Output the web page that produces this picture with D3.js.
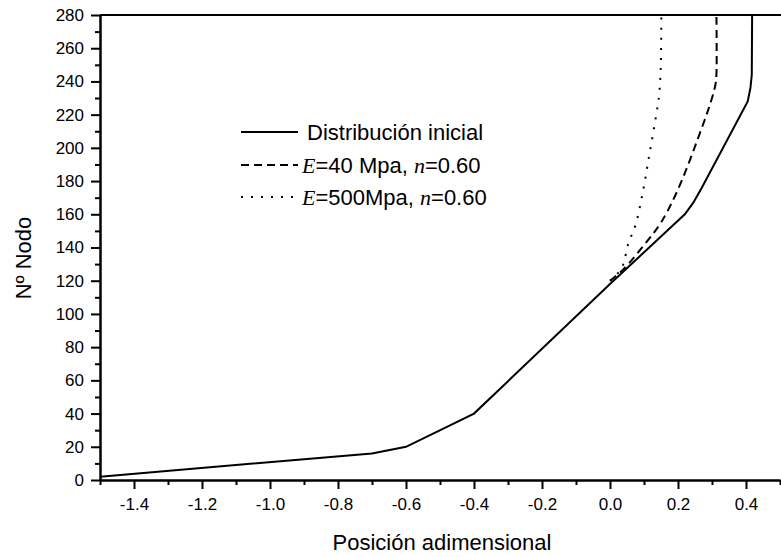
<!DOCTYPE html>
<html>
  <head>
    <meta charset="utf-8">
    <title>Nodo vs posicion</title>
    <script src="https://d3js.org/d3.v7.min.js"></script>
    <style>
      body { margin: 0; background: #fff; }
      svg { font-family: Arial, "Liberation Sans", sans-serif; }
    </style>
  </head>
  <body>
    <div id="chart"></div>
    <script>
      // values
      const xTicks = [-1.4, -1.2, -1.0, -0.8, -0.6, -0.4, -0.2, 0.0, 0.2, 0.4];
      const yTicks = [0, 20, 40, 60, 80, 100, 120, 140, 160, 180, 200, 220, 240, 260, 280];

      // Distribución inicial
      const solidX = [-1.5, -0.7, -0.6, -0.4, 0.0, 0.22, 0.245, 0.27, 0.405, 0.413, 0.417, 0.418];
      const solidY = [2, 16, 20, 40, 118, 160, 167, 176, 228, 236, 244, 280];

      // E=40 Mpa, n=0.60
      const dashX = [0.0, 0.04, 0.11, 0.15, 0.2, 0.27, 0.3, 0.31, 0.313, 0.313];
      const dashY = [120, 127, 144, 155, 175, 212, 230, 238, 244, 280];

      // E=500Mpa, n=0.60
      const dotX = [0.0, 0.034, 0.054, 0.075, 0.098, 0.115, 0.132, 0.144, 0.149, 0.151];
      const dotY = [120, 127.5, 142.5, 153.5, 175, 195, 215, 231, 247, 280];

      const width = 781, height = 557;
      const plotLeft = 100, plotRight = 780, plotTop = 15, plotBottom = 480;

      const svg = d3.select("#chart").append("svg")
        .attr("width", width)
        .attr("height", height);

      const x = d3.scaleLinear().domain([-1.5, 0.5]).range([plotLeft, plotRight]);
      const y = d3.scaleLinear().domain([0, 280]).range([plotBottom, plotTop]);

      svg.append("clipPath").attr("id", "clip")
        .append("rect")
        .attr("x", plotLeft).attr("y", plotTop)
        .attr("width", plotRight - plotLeft).attr("height", plotBottom - plotTop);

      // minor ticks first so the axes sit on top
      const xMinor = d3.range(-15, 6, 2).map(d => d / 10);
      svg.append("g")
        .attr("transform", `translate(0,${plotBottom})`)
        .call(d3.axisBottom(x).tickValues(xMinor).tickSize(5).tickFormat(""))
        .call(g => g.select(".domain").remove())
        .call(g => g.selectAll("line").attr("stroke-width", 2));

      const yMinor = d3.range(10, 280, 20);
      svg.append("g")
        .attr("transform", `translate(${plotLeft},0)`)
        .call(d3.axisLeft(y).tickValues(yMinor).tickSize(5).tickFormat(""))
        .call(g => g.select(".domain").remove())
        .call(g => g.selectAll("line").attr("stroke-width", 2));

      // x axis
      svg.append("g")
        .attr("transform", `translate(0,${plotBottom})`)
        .call(d3.axisBottom(x).tickValues(xTicks).tickSize(9).tickSizeOuter(0))
        .call(g => g.select(".domain").attr("stroke-width", 2.5))
        .call(g => g.selectAll(".tick line").attr("stroke-width", 2))
        .call(g => g.selectAll(".tick text")
          .attr("font-size", 17).attr("font-family", "Arial, 'Liberation Sans'")
          .attr("fill", "#000").attr("dy", "1.05em")
          .text(d => d3.format(".1f")(d).replace("−", "-")));

      // y axis
      svg.append("g")
        .attr("transform", `translate(${plotLeft},0)`)
        .call(d3.axisLeft(y).tickValues(yTicks).tickSize(9).tickSizeOuter(0))
        .call(g => g.select(".domain").attr("stroke-width", 2.5))
        .call(g => g.selectAll(".tick line").attr("stroke-width", 2))
        .call(g => g.selectAll(".tick text")
          .attr("font-size", 17).attr("font-family", "Arial, 'Liberation Sans'")
          .attr("fill", "#000").attr("x", -16));

      // top frame line
      svg.append("line")
        .attr("x1", plotLeft).attr("x2", width)
        .attr("y1", plotTop).attr("y2", plotTop)
        .attr("stroke", "#000").attr("stroke-width", 2);

      // axis titles
      svg.append("text")
        .attr("x", (plotLeft + plotRight) / 2 + 2).attr("y", 550)
        .attr("text-anchor", "middle")
        .attr("font-size", 22)
        .text("Posición adimensional");

      svg.append("text")
        .attr("transform", "translate(31,258) rotate(-90)")
        .attr("text-anchor", "middle")
        .attr("font-size", 22)
        .text("Nº Nodo");

      const line = d3.line()
        .x(d => x(d[0]))
        .y(d => y(d[1]));

      const series = [
        { xs: solidX, ys: solidY, dash: null, curve: d3.curveLinear },
        { xs: dashX, ys: dashY, dash: "8,5", curve: d3.curveCatmullRom },
        { xs: dotX, ys: dotY, dash: "2,8", curve: d3.curveCatmullRom }
      ];

      const plot = svg.append("g").attr("clip-path", "url(#clip)");
      series.forEach(s => {
        plot.append("path")
          .datum(d3.zip(s.xs, s.ys))
          .attr("fill", "none")
          .attr("stroke", "#000")
          .attr("stroke-width", 2)
          .attr("stroke-dasharray", s.dash)
          .attr("d", line.curve(s.curve));
      });

      // legend
      const legend = svg.append("g");
      const rows = [
        { dash: null, y: 132 },
        { dash: "8,5", y: 165 },
        { dash: "2,8", y: 197 }
      ];
      rows.forEach(r => {
        legend.append("line")
          .attr("x1", 241).attr("x2", 298)
          .attr("y1", r.y).attr("y2", r.y)
          .attr("stroke", "#000").attr("stroke-width", 2)
          .attr("stroke-dasharray", r.dash);
      });

      const serif = "'Times New Roman', 'Liberation Serif', serif";
      legend.append("text")
        .attr("x", 307).attr("y", 132).attr("dy", "0.36em")
        .attr("font-size", 22)
        .text("Distribución inicial");

      const t2 = legend.append("text")
        .attr("x", 302).attr("y", 165).attr("dy", "0.36em")
        .attr("font-size", 22);
      t2.append("tspan").attr("font-family", serif).attr("font-style", "italic").text("E");
      t2.append("tspan").text("=40 Mpa, ");
      t2.append("tspan").attr("font-family", serif).attr("font-style", "italic").text("n");
      t2.append("tspan").text("=0.60");

      const t3 = legend.append("text")
        .attr("x", 302).attr("y", 197).attr("dy", "0.36em")
        .attr("font-size", 22);
      t3.append("tspan").attr("font-family", serif).attr("font-style", "italic").text("E");
      t3.append("tspan").text("=500Mpa, ");
      t3.append("tspan").attr("font-family", serif).attr("font-style", "italic").text("n");
      t3.append("tspan").text("=0.60");
    </script>
  </body>
</html>
